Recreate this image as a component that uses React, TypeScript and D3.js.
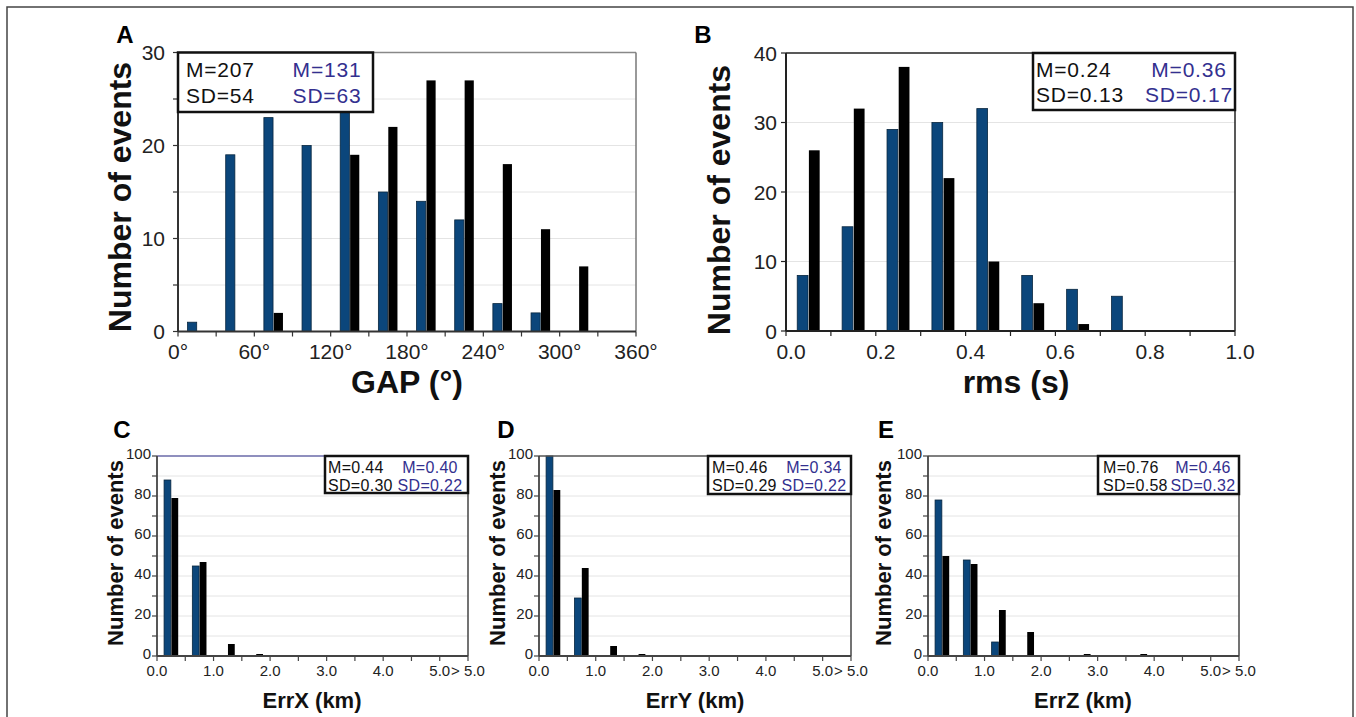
import React from 'react';
import * as d3 from 'd3';

// --- data ---
const gapEdges = [0, 30, 60, 90, 120, 150, 180, 210, 240, 270, 300, 330, 360];
const gapBlue = [1, 19, 23, 20, 24, 15, 14, 12, 3, 2, 0, 0];
const gapBlack = [0, 0, 2, 0, 19, 22, 27, 27, 18, 11, 7, 0];
const gapTickVals = [0, 60, 120, 180, 240, 300, 360];
const gapTickLabels = ['0°', '60°', '120°', '180°', '240°', '300°', '360°'];

const rmsEdges = [0, 0.1, 0.2, 0.3, 0.4, 0.5, 0.6, 0.7, 0.8, 0.9, 1.0];
const rmsBlue = [8, 15, 29, 30, 32, 8, 6, 5, 0, 0];
const rmsBlack = [26, 32, 38, 22, 10, 4, 1, 0, 0, 0];
const rmsTickVals = [0, 0.2, 0.4, 0.6, 0.8, 1.0];
const rmsTickLabels = ['0.0', '0.2', '0.4', '0.6', '0.8', '1.0'];

const errEdges = [0, 0.5, 1, 1.5, 2, 2.5, 3, 3.5, 4, 4.5, 5, 5.5];
const errTickVals = [0, 1, 2, 3, 4, 5, 5.5];
const errTickLabels = ['0.0', '1.0', '2.0', '3.0', '4.0', '5.0', '> 5.0'];
const errXBlue = [88, 45, 0, 0, 0, 0, 0, 0, 0, 0, 0];
const errXBlack = [79, 47, 6, 1, 0, 0, 0, 0, 0, 0, 0];
const errYBlue = [100, 29, 0, 0, 0, 0, 0, 0, 0, 0, 0];
const errYBlack = [83, 44, 5, 1, 0, 0, 0, 0, 0, 0, 0];
const errZBlue = [78, 48, 7, 0, 0, 0, 0, 0, 0, 0, 0];
const errZBlack = [50, 46, 23, 12, 0, 1, 0, 1, 0, 0, 0];

const statsA = [['M=207', 'SD=54'], ['M=131', 'SD=63']];
const statsB = [['M=0.24', 'SD=0.13'], ['M=0.36', 'SD=0.17']];
const statsC = [['M=0.44', 'SD=0.30'], ['M=0.40', 'SD=0.22']];
const statsD = [['M=0.46', 'SD=0.29'], ['M=0.34', 'SD=0.22']];
const statsE = [['M=0.76', 'SD=0.58'], ['M=0.46', 'SD=0.32']];

const BLUE = '#0b467b';
const BLUE_EDGE = '#08263f';
const STAT_BLUE = '#33308f';
const FONT = '"Liberation Sans", Arial, sans-serif';

function Panel(p: any) {
	const x = d3.scaleLinear().domain([p.edges[0], p.edges[p.edges.length - 1]]).range([p.x0, p.x1]);
	const y = d3.scaleLinear().domain([0, p.yMax]).range([p.y1, p.y0]);
	const bins = p.edges.slice(0, -1).map((e: number, i: number) => ({ a: e, b: p.edges[i + 1], blue: p.blue[i], black: p.black[i] }));
	const grid = d3.range(p.gridStep, p.yMax, p.gridStep);
	const minor = d3.range(0, p.yMax + 0.001, p.minorStep);
	const labels = d3.range(0, p.yMax + 0.001, p.labelStep);
	const bar = (d: any, lo: number, hi: number) => {
		const w = x(d.b) - x(d.a);
		return [x(d.a) + lo * w, (hi - lo) * w];
	};
	return (
		<g fontFamily={FONT}>
			{grid.map((g: number) => (
				<line key={'g' + g} x1={p.x0} x2={p.x1} y1={y(g)} y2={y(g)} stroke="#e4e4e4" strokeWidth={1} />
			))}
			{bins.map((d: any, i: number) => {
				const [bx, bw] = bar(d, 0.25, 0.49);
				const [kx, kw] = bar(d, 0.51, 0.75);
				return (
					<g key={'b' + i}>
						{d.blue > 0 && <rect x={bx} y={y(d.blue)} width={bw} height={y(0) - y(d.blue)} fill={BLUE} stroke={BLUE_EDGE} strokeWidth={0.8} />}
						{d.black > 0 && <rect x={kx} y={y(d.black)} width={kw} height={y(0) - y(d.black)} fill="#000" />}
					</g>
				);
			})}
			{/* frame */}
			<line x1={p.x0} x2={p.x1} y1={p.y0} y2={p.y0} stroke={p.topColor} strokeWidth={p.frameW} />
			<line x1={p.x1} x2={p.x1} y1={p.y0} y2={p.y1} stroke={p.rightColor} strokeWidth={p.frameW} />
			<line x1={p.x0} x2={p.x0} y1={p.y0} y2={p.y1} stroke={p.axisColor} strokeWidth={p.axisW} />
			<line x1={p.x0} x2={p.x1} y1={p.y1} y2={p.y1} stroke={p.axisColor} strokeWidth={p.axisW} />
			{minor.map((t: number) => (
				<line key={'yt' + t} x1={p.x0 - p.tick} x2={p.x0} y1={y(t)} y2={y(t)} stroke={p.axisColor} strokeWidth={1.2} />
			))}
			{labels.map((t: number) => (
				<text key={'yl' + t} x={p.x0 - p.yLabelPad} y={y(t) + p.yLabelDy} dy="0.36em" textAnchor="end" fontSize={p.tickFont} fill="#222">{t}</text>
			))}
			{p.edges.map((e: number) => (
				<line key={'xt' + e} x1={x(e)} x2={x(e)} y1={p.y1} y2={p.y1 + p.tick} stroke={p.axisColor} strokeWidth={1.2} />
			))}
			{p.xTickVals.map((t: number, i: number) => (
				<text key={'xl' + i} x={x(t) + p.xLabelDx} y={p.xLabelY} textAnchor="middle" fontSize={p.tickFont} fill="#222">{p.xTickLabels[i]}</text>
			))}
			{/* stats box */}
			<rect x={p.box[0]} y={p.box[1]} width={p.box[2] - p.box[0]} height={p.box[3] - p.box[1]} fill="#fff" stroke="#111" strokeWidth={p.boxW} />
			{p.stats[0].map((s: string, i: number) => (
				<text key={'s0' + i} x={p.col1} y={p.rows[i]} fontSize={p.statFont} letterSpacing={p.statSpacing} fill="#111">{s}</text>
			))}
			{p.stats[1].map((s: string, i: number) => (
				<text key={'s1' + i} x={p.col2} y={p.rows[i]} textAnchor="middle" fontSize={p.statFont} letterSpacing={p.statSpacing} fill={STAT_BLUE}>{s}</text>
			))}
			{/* titles */}
			<text x={p.xTitleX} y={p.xTitleY} textAnchor="middle" fontSize={p.titleFont} fontWeight="bold" fill="#111">{p.xTitle}</text>
			<text transform={`translate(${p.yTitleX},${p.yTitleY}) rotate(-90)`} textAnchor="middle" fontSize={p.titleFont} fontWeight="bold" fill="#111">Number of events</text>
			<text x={p.letterX} y={p.letterY} textAnchor="middle" fontSize={24} fontWeight="bold" fill="#000">{p.letter}</text>
		</g>
	);
}

const topStyle = { tick: 5, tickFont: 21, statFont: 21, statSpacing: 0.8, titleFont: 32, boxW: 2.5, frameW: 1.5, axisW: 2, xLabelY: 359, yLabelDy: 0 };
const botStyle = { tick: 5, tickFont: 15, statFont: 16, statSpacing: 0.3, titleFont: 22, boxW: 2.5, frameW: 1.5, axisW: 1.8, xLabelY: 676, xLabelDx: 0, yLabelPad: 6, yLabelDy: -2, yMax: 100, gridStep: 10, minorStep: 10, labelStep: 20, y0: 456, y1: 656, rows: [473, 491], xTitleY: 708, letterY: 438, topColor: '#555', rightColor: '#444', axisColor: '#444' };

export default function App() {
	return (
		<div style={{ position: 'fixed', left: 0, top: 0 }}>
			<svg width={1356} height={717} style={{ display: 'block', background: '#fff' }}>
				<rect x={7} y={7} width={1346} height={720} fill="none" stroke="#444" strokeWidth={1.5} />
				<Panel {...topStyle} letter="A" letterX={125} letterY={43}
					edges={gapEdges} blue={gapBlue} black={gapBlack} xTickVals={gapTickVals} xTickLabels={gapTickLabels}
					x0={178} x1={636} y0={52.5} y1={331.5} yMax={30} gridStep={5} minorStep={5} labelStep={10}
					yLabelPad={13} xLabelDx={0} topColor="#888" rightColor="#777" axisColor="#333"
					box={[178, 52.5, 373, 112]} col1={186} col2={327} rows={[77, 103]} stats={statsA}
					xTitle="GAP (°)" xTitleX={407} xTitleY={393} yTitleX={131} yTitleY={197} />
				<Panel {...topStyle} letter="B" letterX={703} letterY={43}
					edges={rmsEdges} blue={rmsBlue} black={rmsBlack} xTickVals={rmsTickVals} xTickLabels={rmsTickLabels}
					x0={786} x1={1235} y0={53} y1={331} yMax={40} gridStep={10} minorStep={10} labelStep={10}
					yLabelPad={9} xLabelDx={5} topColor="#222" rightColor="#222" axisColor="#222"
					box={[1033, 53, 1235, 110]} col1={1036} col2={1189} rows={[77, 102]} stats={statsB}
					xTitle="rms (s)" xTitleX={1016} xTitleY={393} yTitleX={730} yTitleY={200} />
				<Panel {...botStyle} letter="C" letterX={122}
					edges={errEdges} blue={errXBlue} black={errXBlack} xTickVals={errTickVals} xTickLabels={errTickLabels}
					x0={157} x1={468} topColor="#6a6aa8"
					box={[325, 456, 468, 493]} col1={328} col2={430} stats={statsC}
					xTitle="ErrX (km)" xTitleX={312} yTitleX={123} yTitleY={553} />
				<Panel {...botStyle} letter="D" letterX={506}
					edges={errEdges} blue={errYBlue} black={errYBlack} xTickVals={errTickVals} xTickLabels={errTickLabels}
					x0={539} x1={851}
					box={[708, 456, 851, 494]} col1={712} col2={814} stats={statsD}
					xTitle="ErrY (km)" xTitleX={695} yTitleX={505} yTitleY={553} />
				<Panel {...botStyle} letter="E" letterX={886}
					edges={errEdges} blue={errZBlue} black={errZBlack} xTickVals={errTickVals} xTickLabels={errTickLabels}
					x0={928} x1={1239}
					box={[1098, 456, 1239, 494]} col1={1103} col2={1203} stats={statsE}
					xTitle="ErrZ (km)" xTitleX={1083} yTitleX={891} yTitleY={553} />
			</svg>
		</div>
	);
}
